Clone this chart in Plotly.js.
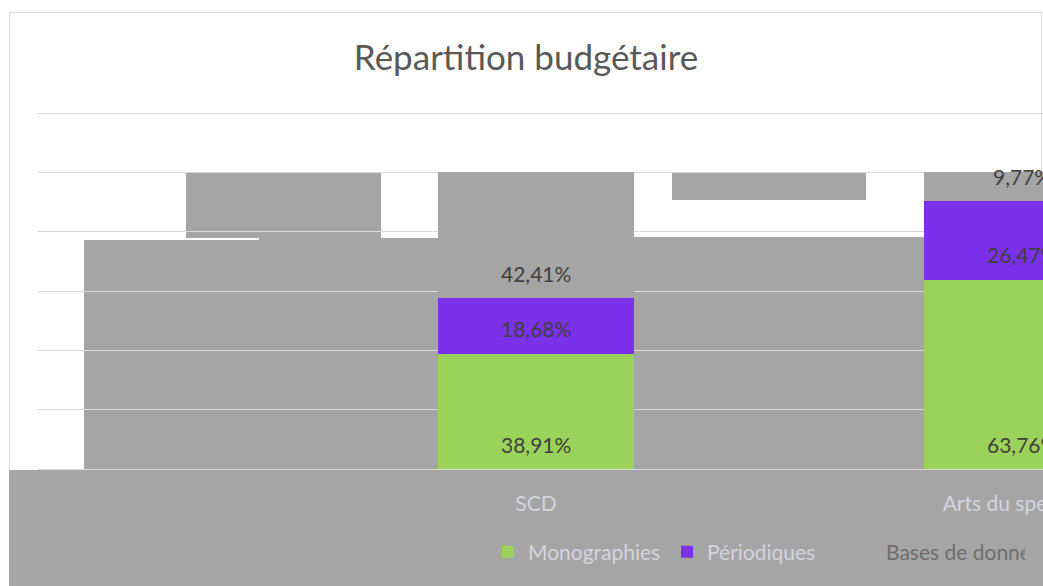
<!DOCTYPE html>
<html>
<head>
<meta charset="utf-8">
<script src="https://cdn.plot.ly/plotly-3.0.1.min.js"></script>
<style>html,body{margin:0;padding:0;background:#fff;overflow:hidden}</style>
</head>
<body>
<div id="chart" style="width:1043px;height:586px"></div>
<script>
// ---- data ----
const categories = ["SCD", "Arts du spectacle"];
const monographies = [38.91, 63.76];
const periodiques = [18.68, 26.47];
const basesDeDonnees = [42.41, 9.77];
const seriesNames = ["Monographies", "Périodiques", "Bases de données"];

// ---- styling / layout ----
const W = 1043, H = 586;
const L = 38, R = 0, T = 111, B = 117;
const PW = W - L - R, PH = H - T - B;
const YMAX = 120 * PH / 356;   // 120 % gridline sits 2 px below the plot top
const colors = ["#9BD35A", "#7B30EA", "#A5A5A5"];
const font = "Lato, 'Open Sans', sans-serif";
const fmt = v => v.toFixed(2).replace(".", ",") + "%";

const series = [monographies, periodiques, basesDeDonnees];
const traces = series.map((vals, k) => ({
  type: "bar",
  name: k === 2 ? '<span style="color:#6e6e6e">' + seriesNames[k] + '</span>' : seriesNames[k],
  x: categories,
  y: vals,
  marker: {color: colors[k], line: {width: 0}},
  hoverinfo: "skip"
}));

// data labels near the base of each segment, positioned through the axes
const annotations = [];
series.forEach((vals, k) => {
  vals.forEach((v, i) => {
    let base = 0;
    for (let j = 0; j < k; j++) base += series[j][i];
    annotations.push({
      xref: "x", yref: "y", x: categories[i], y: base,
      text: fmt(v), showarrow: false, yanchor: "middle", yshift: 25,
      font: {family: font, size: 21, color: "#404040"}
    });
  });
});

// pixel helpers for the decorative frame / gray background artefacts
const px = x => (x - L) / PW;
const py = y => (H - B - y) / PH;
function rect(x0, y0, x1, y1, fill, line) {
  return {type: "rect", xref: "paper", yref: "paper", layer: "below",
    x0: px(x0), x1: px(x1), y0: py(y1), y1: py(y0),
    fillcolor: fill || "rgba(0,0,0,0)",
    line: line ? {color: line, width: 1} : {width: 0}};
}
const gray = "#A5A5A5";
const shapes = [
  rect(9.5, 12.5, 1041.5, 600, null, "#d9d9d9"),
  rect(9, 470, 1043, 586, gray),
  rect(84, 240, 259, 470, gray),
  rect(259, 238, 438, 470, gray),
  rect(186, 172, 381, 238, gray),
  rect(634, 237, 924, 470, gray),
  rect(672, 172, 866, 200, gray)
];

// category axis window: 486 px per category, first category centred at x=536
const catPx = 486, firstCenter = 536;
const r0 = -(firstCenter - L) / catPx;
const r1 = r0 + PW / catPx;

const layout = {
  width: W, height: H,
  margin: {l: L, r: R, t: T, b: B, pad: 0, autoexpand: false},
  paper_bgcolor: "rgba(0,0,0,0)",
  plot_bgcolor: "rgba(0,0,0,0)",
  barmode: "stack",
  bargap: 1 - 196 / catPx,
  showlegend: true,
  title: {
    text: "Répartition budgétaire",
    xref: "container", yref: "container",
    x: 526 / W, y: 1 - 58 / H, xanchor: "center", yanchor: "middle",
    font: {family: font, size: 35, color: "#595959"}
  },
  xaxis: {
    type: "category", range: [r0, r1],
    showgrid: false, zeroline: false,
    showline: true, linecolor: "#d9d9d9", linewidth: 1,
    ticks: "", ticklabelstandoff: 16,
    tickfont: {family: font, size: 21, color: "#d4d4de"},
    fixedrange: true
  },
  yaxis: {
    range: [0, YMAX], dtick: 20, tick0: 0,
    showgrid: true, gridcolor: "#d9d9d9", gridwidth: 1,
    zeroline: false, showline: false, showticklabels: false, ticks: "",
    fixedrange: true
  },
  legend: {
    orientation: "h", x: px(488), xanchor: "left", y: py(552), yanchor: "middle",
    bgcolor: "rgba(0,0,0,0)", itemwidth: 30, traceorder: "normal",
    entrywidth: 134, entrywidthmode: "pixels",
    font: {family: font, size: 21, color: "#d4d4de"}
  },
  annotations: annotations,
  shapes: shapes
};

Plotly.newPlot("chart", traces, layout, {displayModeBar: false, staticPlot: true});
</script>
</body>
</html>
